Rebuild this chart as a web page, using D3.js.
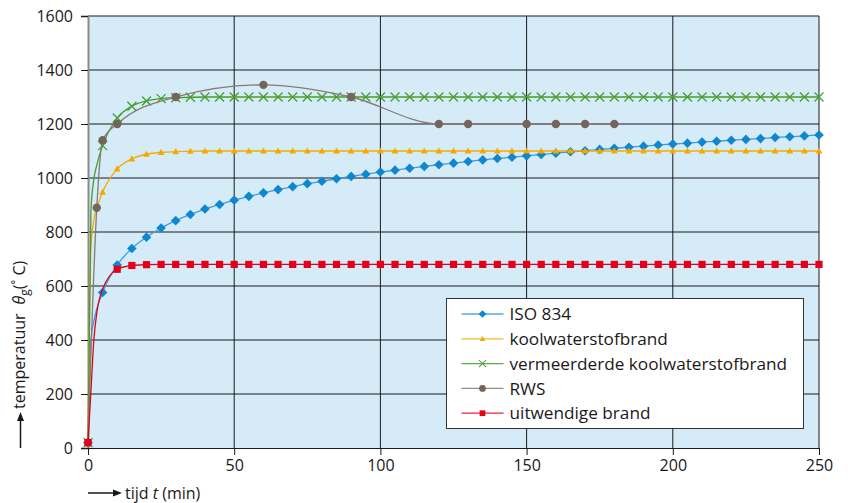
<!DOCTYPE html>
<html>
<head>
<meta charset="utf-8">
<script src="https://cdn.jsdelivr.net/npm/d3@7"></script>
<style>
  body { margin: 0; background: #fff; }
  svg { display: block; }
  text { font-family: "Open Sans", sans-serif; fill: #1a1a1a; }
</style>
</head>
<body>
<div id="chart"></div>
<script>
// tijd (min) van de markers, elke 5 minuten
const times = [0,5,10,15,20,25,30,35,40,45,50,55,60,65,70,75,80,85,90,95,100,
  105,110,115,120,125,130,135,140,145,150,155,160,165,170,175,180,185,190,195,200,
  205,210,215,220,225,230,235,240,245,250];

const iso834 = [20,576,678,739,781,815,842,865,885,902,918,932,945,957,968,979,988,997,
  1006,1014,1022,1029,1036,1043,1049,1055,1061,1067,1072,1077,1082,1087,1092,1097,1101,
  1106,1110,1114,1118,1122,1126,1129,1133,1136,1140,1143,1146,1150,1153,1156,1159];

const koolwaterstof = [20,948,1034,1071,1088,1095,1098,1099,1100,1100,1100,1100,1100,1100,
  1100,1100,1100,1100,1100,1100,1100,1100,1100,1100,1100,1100,1100,1100,1100,1100,1100,
  1100,1100,1100,1100,1100,1100,1100,1100,1100,1100,1100,1100,1100,1100,1100,1100,1100,
  1100,1100,1100];

const vermeerderd = [20,1120,1222,1266,1285,1294,1297,1299,1300,1300,1300,1300,1300,1300,
  1300,1300,1300,1300,1300,1300,1300,1300,1300,1300,1300,1300,1300,1300,1300,1300,1300,
  1300,1300,1300,1300,1300,1300,1300,1300,1300,1300,1300,1300,1300,1300,1300,1300,1300,
  1300,1300,1300];

const uitwendig = [20,588,662,676,679,680,680,680,680,680,680,680,680,680,680,680,680,680,
  680,680,680,680,680,680,680,680,680,680,680,680,680,680,680,680,680,680,680,680,680,680,
  680,680,680,680,680,680,680,680,680,680,680];

// extra lijnpunten in de eerste minuten (zonder marker)
const isoStart = [[1,400],[2,470],[3,515]];
const koolStart = [[1,743],[2,844],[3,887]];
const vermStart = [[1,877],[2,996],[3,1047]];
const uitwStart = [[1,210],[2,400],[3,500]];
// tijdstippen waarop geen marker zichtbaar is
const uitwNoMark = [5];

// RWS-kromme
const rwsTimes = [0,3,5,10,30,60,90,120,130,150,160,170,180];
const rwsTemps = [20,890,1140,1200,1300,1345,1300,1200,1200,1200,1200,1200,1200];

const yTicks = [0,200,400,600,800,1000,1200,1400,1600];
const xTicks = [0,50,100,150,200,250];

const W = 848, H = 503;
const svg = d3.select("#chart").append("svg").attr("width", W).attr("height", H);

const x = d3.scaleLinear().domain([0, 250]).range([88, 819]);
const y = d3.scaleLinear().domain([0, 1600]).range([448, 16]);

// 1) achtergrond plotvlak
svg.append("rect")
  .attr("x", x(0)).attr("y", y(1600))
  .attr("width", x(250) - x(0)).attr("height", y(0) - y(1600))
  .attr("fill", "#d5ecf8");

// 2) rasterlijnen
svg.append("g").selectAll("line")
  .data(yTicks.slice(1))
  .enter().append("line")
    .attr("x1", x(0)).attr("x2", x(250))
    .attr("y1", d => y(d)).attr("y2", d => y(d))
    .attr("stroke", "#1a1a1a").attr("stroke-width", 1);
svg.append("g").selectAll("line")
  .data(xTicks.slice(1))
  .enter().append("line")
    .attr("x1", d => x(d)).attr("x2", d => x(d))
    .attr("y1", y(0)).attr("y2", y(1600))
    .attr("stroke", "#1a1a1a").attr("stroke-width", 1);

// 3) assen
const yAxis = svg.append("g")
  .attr("transform", `translate(${x(0)},0)`)
  .call(d3.axisLeft(y).tickValues(yTicks).tickFormat(d3.format("d")).tickSize(7).tickPadding(8));
yAxis.select(".domain").attr("stroke", "#8a8a8a").attr("stroke-width", 2);
yAxis.selectAll(".tick line").attr("stroke", "#1a1a1a");
yAxis.selectAll(".tick text").attr("font-size", 16).attr("font-family", "Open Sans").attr("fill", "#1a1a1a");

const xAxis = svg.append("g")
  .attr("transform", `translate(0,${y(0)})`)
  .call(d3.axisBottom(x).tickValues(xTicks).tickFormat(d3.format("d")).tickSize(7).tickPadding(5));
xAxis.select(".domain").attr("stroke", "#1a1a1a");
xAxis.selectAll(".tick line").attr("stroke", "#1a1a1a");
xAxis.selectAll(".tick text").attr("font-size", 16).attr("font-family", "Open Sans").attr("fill", "#1a1a1a");

// 4) markersymbolen
const markers = {
  diamond: (g, c) => g.append("path").attr("d", "M0,-4.8L4.8,0L0,4.8L-4.8,0Z").attr("fill", c),
  triangle: (g, c) => g.append("path").attr("d", "M0,-3.6L3.4,2.6L-3.4,2.6Z").attr("fill", c),
  cross: (g, c) => g.append("path").attr("d", "M-4.5,-4.5L4.5,4.5M-4.5,4.5L4.5,-4.5")
    .attr("stroke", c).attr("stroke-width", 1.3).attr("fill", "none"),
  circle: (g, c) => g.append("circle").attr("r", 4.2).attr("fill", c),
  square: (g, c) => g.append("rect").attr("x", -3.6).attr("y", -3.6)
    .attr("width", 7.2).attr("height", 7.2).attr("fill", c)
};

const zip = (ts, vs) => ts.map((t, i) => [t, vs[i]]);
const withStart = (pts, extra) => pts.concat(extra).sort((a, b) => a[0] - b[0]);

const series = [
  { name: "ISO 834", line: "#3c9ddd", mark: "#0e86d0", shape: "diamond",
    pts: zip(times, iso834), linePts: withStart(zip(times, iso834), isoStart) },
  { name: "koolwaterstofbrand", line: "#f5ab00", mark: "#f5a800", shape: "triangle",
    pts: zip(times, koolwaterstof), linePts: withStart(zip(times, koolwaterstof), koolStart) },
  { name: "vermeerderde koolwaterstofbrand", line: "#4b9a2c", mark: "#44a02f", shape: "cross",
    pts: zip(times, vermeerderd), linePts: withStart(zip(times, vermeerderd), vermStart) },
  { name: "RWS", line: "#877a72", mark: "#74645a", shape: "circle",
    pts: zip(rwsTimes, rwsTemps), linePts: zip(rwsTimes, rwsTemps) },
  { name: "uitwendige brand", line: "#e2001a", mark: "#e2001a", shape: "square",
    pts: zip(times, uitwendig).filter(p => !uitwNoMark.includes(p[0])),
    linePts: withStart(zip(times, uitwendig), uitwStart) }
];

const line = d3.line().x(d => x(d[0])).y(d => y(d[1])).curve(d3.curveMonotoneX);

// 5) lijnen en markers
series.forEach(s => {
  svg.append("path")
    .datum(s.linePts)
    .attr("d", line)
    .attr("fill", "none")
    .attr("stroke", s.line)
    .attr("stroke-width", 1.3);
  const g = svg.append("g");
  s.pts.forEach(p => {
    const m = g.append("g").attr("transform", `translate(${x(p[0])},${y(p[1])})`);
    markers[s.shape](m, s.mark);
  });
});

// 6) legenda
const leg = svg.append("g").attr("transform", "translate(446.5,298.5)");
leg.append("rect")
  .attr("width", 357).attr("height", 130)
  .attr("fill", "#fff").attr("stroke", "#333").attr("stroke-width", 1);
series.forEach((s, i) => {
  const row = leg.append("g").attr("transform", `translate(0,${15.5 + i * 24.8})`);
  row.append("line").attr("x1", 15).attr("x2", 57).attr("y1", 0).attr("y2", 0)
    .attr("stroke", s.line).attr("stroke-width", 1.3).attr("opacity", 0.85);
  const m = row.append("g").attr("transform", "translate(36,0) scale(0.8)");
  markers[s.shape](m, s.mark);
  row.append("text").attr("x", 63).attr("y", 6.2).attr("font-size", 17.2).text(s.name);
});

// 7) astitels
const yt = svg.append("g").attr("transform", "translate(25,448) rotate(-90)");
yt.append("line").attr("x1", 0).attr("x2", 30).attr("y1", -4.5).attr("y2", -4.5)
  .attr("stroke", "#1a1a1a").attr("stroke-width", 1.5);
yt.append("path").attr("d", "M36,-4.5L27,-8L27,-1Z").attr("fill", "#1a1a1a");
const ytxt = yt.append("text").attr("x", 39).attr("y", 0).attr("font-size", 16);
ytxt.append("tspan").text("temperatuur");
ytxt.append("tspan").attr("dx", 9).attr("font-style", "italic").text("θ");
ytxt.append("tspan").attr("dy", 4).attr("font-size", 12).text("g");
ytxt.append("tspan").attr("dy", -4).text("(˚ C)");

const xt = svg.append("g").attr("transform", "translate(88,493)");
xt.append("line").attr("x1", 0).attr("x2", 28).attr("y1", 0).attr("y2", 0)
  .attr("stroke", "#1a1a1a").attr("stroke-width", 1.5);
xt.append("path").attr("d", "M34,0L25,-3.5L25,3.5Z").attr("fill", "#1a1a1a");
const xtxt = xt.append("text").attr("x", 37).attr("y", 5.5).attr("font-size", 16);
xtxt.append("tspan").text("tijd ");
xtxt.append("tspan").attr("font-style", "italic").text("t");
xtxt.append("tspan").text(" (min)");
</script>
</body>
</html>
